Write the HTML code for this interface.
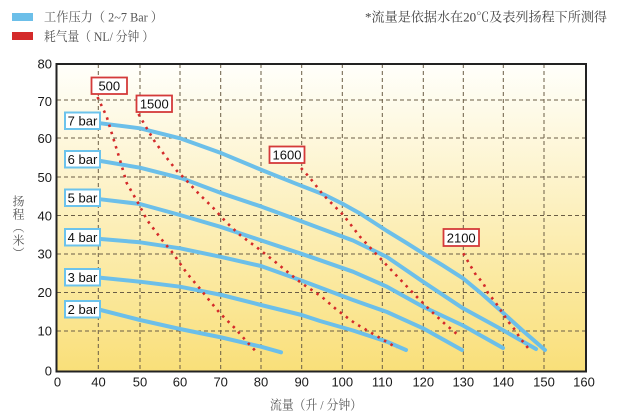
<!DOCTYPE html>
<html>
<head>
<meta charset="utf-8">
<style>
html,body{margin:0;padding:0;background:#fff;}
.wrap{position:relative;width:619px;height:418px;overflow:hidden;background:#fff;}
svg{position:absolute;left:0;top:0;}
.yt{position:absolute;left:12px;top:195px;writing-mode:vertical-rl;font-family:"Liberation Serif","Noto Serif CJK SC","Noto Sans CJK SC",serif;font-size:12px;line-height:12px;letter-spacing:1px;color:#555;}
</style>
</head>
<body>
<div class="wrap">
<svg width="619" height="418" viewBox="0 0 619 418" xmlns="http://www.w3.org/2000/svg">
<defs>
<linearGradient id="bg" x1="0" y1="0" x2="0" y2="1">
<stop offset="0" stop-color="#fffffb"/>
<stop offset="0.35" stop-color="#fdf4cf"/>
<stop offset="0.7" stop-color="#fbe9a0"/>
<stop offset="1" stop-color="#f9df79"/>
</linearGradient>
</defs>

<!-- legend -->
<rect x="12" y="13" width="21" height="8" fill="#6cbfe9"/>
<rect x="12" y="32" width="21" height="8" fill="#d42a2a"/>
<text x="44" y="21.5" font-family="'Liberation Serif','Noto Serif CJK SC',serif" font-size="13" fill="#555" textLength="119" lengthAdjust="spacingAndGlyphs">工作压力（ 2~7 Bar ）</text>
<text x="44" y="41" font-family="'Liberation Serif','Noto Serif CJK SC',serif" font-size="13" fill="#555" textLength="110" lengthAdjust="spacingAndGlyphs">耗气量（ NL/ 分钟 ）</text>
<text x="365" y="21.5" font-family="'Liberation Serif','Noto Serif CJK SC',serif" font-size="13" fill="#444" textLength="242" lengthAdjust="spacingAndGlyphs">*流量是依据水在20℃及表列扬程下所测得</text>

<!-- plot background -->
<rect x="56.5" y="64" width="529.5" height="307.5" fill="url(#bg)"/>

<!-- grid -->
<g stroke="#6a5d45" stroke-width="1" stroke-dasharray="4 3" fill="none">
<line x1="57" y1="100" x2="586" y2="100"/>
<line x1="57" y1="138" x2="586" y2="138"/>
<line x1="57" y1="177" x2="586" y2="177"/>
<line x1="57" y1="215.5" x2="586" y2="215.5"/>
<line x1="57" y1="254" x2="586" y2="254"/>
<line x1="57" y1="292.5" x2="586" y2="292.5"/>
<line x1="57" y1="331" x2="586" y2="331"/>
<line x1="98.3" y1="64" x2="98.3" y2="371"/>
<line x1="140" y1="64" x2="140" y2="371"/>
<line x1="180" y1="64" x2="180" y2="371"/>
<line x1="220.7" y1="64" x2="220.7" y2="371"/>
<line x1="261" y1="64" x2="261" y2="371"/>
<line x1="301.7" y1="64" x2="301.7" y2="371"/>
<line x1="342.3" y1="64" x2="342.3" y2="371"/>
<line x1="382.3" y1="64" x2="382.3" y2="371"/>
<line x1="423.3" y1="64" x2="423.3" y2="371"/>
<line x1="463.3" y1="64" x2="463.3" y2="371"/>
<line x1="503.3" y1="64" x2="503.3" y2="371"/>
<line x1="544" y1="64" x2="544" y2="371"/>
</g>

<!-- border -->
<rect x="56.5" y="64" width="529.5" height="307.5" fill="none" stroke="#222" stroke-width="2"/>

<!-- blue pressure curves -->
<g fill="none" stroke="#6cbfe9" stroke-width="4" stroke-linecap="round" stroke-linejoin="round">
<polyline points="100.7,123.3 140,128.3 180,138.3 221.7,153.3 261.7,170 295,183.3 325,195 343,204 360,213.5 377,224.5 387,231 405,242 423,253.3 443,265.5 463,278.3 482,294 500,310 522,330 545,350"/>
<polyline points="100.7,161 140,167.7 181.7,178.3 221.7,193.3 261.7,206.7 298,220 320,228.3 353,240.5 387,257 423,281.7 463,308.3 500,328.5 536,349"/>
<polyline points="100.7,199.3 140,204 180,215 220,226.7 260,240 310,256.7 353,271.7 387,286.7 423,306.7 463,325.5 503,348"/>
<polyline points="100.7,239 140,242.3 180,248.3 220,256.7 261,266 300,280 320,287.5 353,300 387,312 423,328.3 462,350"/>
<polyline points="100.7,277.7 140,281.7 180,286.7 221.7,295 261,305 301.7,315 320,321 353,330.5 387,341.7 406,350"/>
<polyline points="100.7,310 140,320 180,329 221.7,337.5 261,346.7 281,352.3"/>
</g>

<!-- red air consumption dotted curves -->
<g fill="none" stroke="#d42a2a" stroke-width="2.6" stroke-dasharray="2.5 5">
<polyline points="97.5,97 106.7,116.7 113.3,138.3 120,160 126.7,183 138.3,203.3 147,220 162,240 172,252 177,259 183.3,268.3 190,277 198.3,286.7 211.7,303.3 220,313.3 235,328.3 248.3,343.3 256.7,352.3"/>
<polyline points="138.5,114 146,127 155,142 166,157 177,171 185,179 200,195 213.3,208 226,222 240,235 258,248.3 275,261.7 290,274 301.7,283.3 321.7,296.7 337,310 355,323.3 375,335 397,348"/>
<polyline points="301,168 310,178 323.3,195 343.3,215 360,236.7 378,256 398.3,277.5 415,295 431.7,311.7 445,324 458,335"/>
<polyline points="463.3,253.3 470,265 476,275 483.3,283.3 488,293 495,301.7 501.7,311.7 508.3,321.7 515,330 520,338 528,348"/>
</g>

<!-- bar labels -->
<g fill="#fff" stroke="#6cc3ec" stroke-width="2">
<rect x="65" y="112.5" width="35" height="16.5"/>
<rect x="65" y="151" width="35" height="16.5"/>
<rect x="65" y="189.5" width="35" height="16.5"/>
<rect x="65" y="229" width="35" height="16.5"/>
<rect x="65" y="269" width="35" height="16.5"/>
<rect x="65" y="301" width="35" height="16.5"/>
</g>
<g font-family="'Liberation Sans',Arial,sans-serif" font-size="13" fill="#111" text-anchor="middle">
<text x="82.5" y="125.5">7 bar</text>
<text x="82.5" y="164">6 bar</text>
<text x="82.5" y="202.5">5 bar</text>
<text x="82.5" y="242">4 bar</text>
<text x="82.5" y="282">3 bar</text>
<text x="82.5" y="314">2 bar</text>
</g>

<!-- consumption labels -->
<g fill="#fff" stroke="#d43a3a" stroke-width="1.8">
<rect x="91.5" y="77.5" width="35.5" height="16.5"/>
<rect x="136.5" y="95.5" width="35.5" height="16.5"/>
<rect x="269.5" y="146.5" width="35" height="16.5"/>
<rect x="443.5" y="229" width="35.5" height="17"/>
</g>
<g font-family="'Liberation Sans',Arial,sans-serif" font-size="13" fill="#111" text-anchor="middle">
<text x="109.3" y="90.5">500</text>
<text x="154.3" y="108.5">1500</text>
<text x="287" y="159.5">1600</text>
<text x="461.2" y="242.3">2100</text>
</g>

<!-- y tick labels -->
<g font-family="'Liberation Sans',Arial,sans-serif" font-size="13" fill="#1a1a1a" text-anchor="end">
<text x="52" y="68.6">80</text>
<text x="52" y="106">70</text>
<text x="52" y="143">60</text>
<text x="52" y="181.8">50</text>
<text x="52" y="220.3">40</text>
<text x="52" y="258.6">30</text>
<text x="52" y="297">20</text>
<text x="52" y="335.6">10</text>
<text x="52" y="375.5">0</text>
</g>

<!-- x tick labels -->
<g font-family="'Liberation Sans',Arial,sans-serif" font-size="13" fill="#1a1a1a" text-anchor="middle">
<text x="57.5" y="386.5">0</text>
<text x="98.5" y="386.5">40</text>
<text x="140" y="386.5">50</text>
<text x="180" y="386.5">60</text>
<text x="220.7" y="386.5">70</text>
<text x="261" y="386.5">80</text>
<text x="301.7" y="386.5">90</text>
<text x="342.3" y="386.5">100</text>
<text x="382.3" y="386.5">110</text>
<text x="423.3" y="386.5">120</text>
<text x="463.3" y="386.5">130</text>
<text x="503.3" y="386.5">140</text>
<text x="544" y="386.5">150</text>
<text x="584" y="386.5">160</text>
</g>

<!-- x axis title -->
<text x="270" y="409.5" font-family="'Liberation Serif','Noto Serif CJK SC',serif" font-size="13" fill="#555" textLength="92" lengthAdjust="spacingAndGlyphs">流量（升 / 分钟）</text>
</svg>
<div class="yt">扬程（米）</div>
</div>
</body>
</html>
